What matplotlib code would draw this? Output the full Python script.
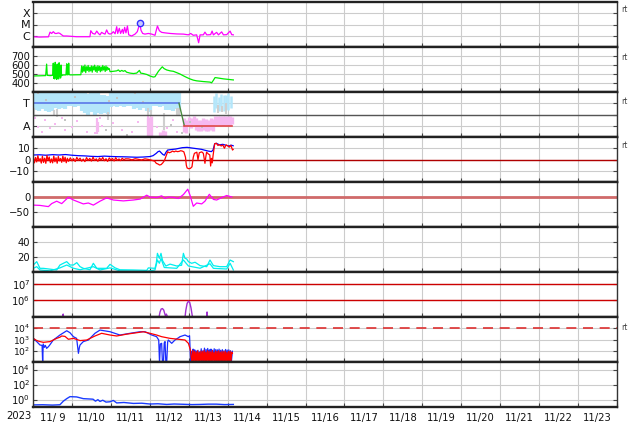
import datetime
import numpy as np
import matplotlib
matplotlib.use("Agg")
import matplotlib.pyplot as plt
from matplotlib.ticker import NullLocator

plt.rcParams['font.family'] = ['DejaVu Sans']
plt.rcParams['font.size'] = 7.2

# ---- data (time in hours since 2023-11-09 00:00) ----
start_day = datetime.date(2023, 11, 9)
n_days = 15

# X-ray flux (W/m2)
xr_t = [0.2, 4.0, 9.5, 10.5, 11.5, 12.5, 13.6, 14.6, 15.6, 16.6, 17.7, 18.7, 20.8, 26.9, 35.1,
        35.6, 36.8, 38.2, 39.3, 40.3, 41.3, 42.3, 43.4, 44.4, 45.4, 46.4, 47.5, 48.5, 49.5, 50.6,
        51.6, 52.2, 53.2, 54.0, 55.1, 55.7, 56.5, 57.3, 58.2, 59.0, 60.8, 62.9, 64.3, 65.1, 65.8,
        66.6, 67.6, 69.0, 71.1, 73.2, 75.2, 76.7, 77.9, 79.3, 81.4, 84.5, 88.6, 92.7, 95.8, 97.2,
        98.8, 100.9, 102.1, 103.0, 105.0, 106.0, 107.1, 109.5, 110.4, 111.2, 113.2, 114.3, 116.3,
        117.4, 119.4, 121.5, 122.5, 123.5]
xr_v = [8.2e-7, 7.6e-7, 8.0e-7, 2.1e-6, 1.6e-6, 2.3e-6, 1.6e-6, 1.6e-6, 1.8e-6, 1.6e-6, 1.2e-6,
        9.5e-7, 9.5e-7, 8.2e-7, 8.2e-7, 2.8e-6, 1.6e-6, 1.4e-6, 2.6e-6, 1.6e-6, 1.2e-6, 2.0e-6,
        1.6e-6, 1.4e-6, 3.3e-6, 1.6e-6, 1.4e-6, 1.6e-6, 2.3e-6, 1.5e-6, 6.4e-6, 1.6e-6, 4.6e-6,
        1.6e-6, 3.7e-6, 1.6e-6, 5.6e-6, 1.8e-6, 7.4e-6, 1.2e-6, 9.5e-7, 1.4e-6, 2.3e-6, 5.6e-6,
        1.25e-5, 3.0e-6, 1.6e-6, 1.4e-6, 1.6e-6, 1.4e-6, 1.1e-6, 7.4e-6, 2.8e-6, 2.0e-6, 1.8e-6,
        1.6e-6, 1.45e-6, 1.4e-6, 1.2e-6, 1.6e-6, 1.1e-6, 1.2e-6, 2.4e-7, 1.2e-6, 1.2e-6, 2.1e-6,
        1.2e-6, 1.25e-6, 2.6e-6, 1.2e-6, 2.0e-6, 1.2e-6, 2.2e-6, 1.2e-6, 1.25e-6, 2.6e-6, 1.25e-6,
        1.2e-6]
flare_t = [65.8]
flare_v = [1.25e-5]

# solar wind speed (km/s)
sw_t = [0.2, 4.3, 7.8, 8.4, 8.8, 10.5, 12.1,
        12.5, 12.8, 13.1, 13.4, 13.7, 14.0, 14.3, 14.6, 14.9, 15.2, 15.5, 15.8, 16.1, 16.4, 16.7,
        17.0, 17.3, 17.6, 18.1, 20.3, 20.8, 21.1, 21.4, 21.7, 22.0, 22.3, 22.8, 29.5,
        30.0, 30.5, 31.0, 31.5, 32.0, 32.5, 33.0, 33.5, 34.0, 34.5, 35.0, 35.5, 36.0, 36.5, 37.0,
        37.5, 38.0, 38.5, 39.0, 39.5, 40.0, 40.5, 41.0, 41.5, 42.0, 42.5, 43.0, 43.5, 44.0, 44.5,
        45.0, 45.5, 46.0, 46.5, 47.0,
        47.5, 49.5, 51.6, 52.6, 53.6, 54.7, 55.7, 56.7, 57.7, 59.8, 61.9, 63.9, 65.6, 66.4, 68.0,
        70.1, 72.1, 74.2, 75.2, 77.3, 78.7, 79.7, 80.8, 82.4, 84.5, 86.5, 88.6, 90.6, 92.7, 94.7,
        96.8, 98.8, 100.9, 103.0, 105.0, 107.1, 109.1, 110.1, 111.2, 112.2, 113.2, 115.3, 117.4,
        119.4, 121.5, 123.5]
sw_v = [478, 480, 482, 610, 485, 482, 485,
        620, 450, 600, 445, 630, 460, 590, 440, 610, 450, 560, 445, 625, 470, 580,
        455, 600, 480, 489, 490, 615, 490, 605, 492, 620, 495, 490, 492,
        590, 520, 585, 530, 600, 515, 580, 540, 595, 525, 575, 535, 590, 520, 585,
        545, 598, 530, 580, 518, 592, 540, 585, 525, 578, 535, 595, 545, 582, 528,
        590, 540, 575, 550, 560,
        526, 530, 535, 545, 528, 540, 530, 538, 520, 510, 505, 510, 540, 510, 505,
        495, 478, 466, 470, 530, 560, 580, 560, 545, 535, 530, 515, 500, 480, 462,
        445, 432, 424, 420, 416, 413, 410, 402, 430, 460, 458, 452, 446,
        442, 438, 434]

# IMF sector: sector line (deg), and scatter of phi angle
sec_t = [0.2, 90.0, 93.3, 122.9]
sec_v = [270, 270, 90, 90]
blue_t = [0, 2, 4, 6, 8, 10, 12, 14, 16, 18, 20, 22, 24, 26, 28, 30, 32, 34, 36, 38, 40, 42, 44,
          46, 48, 50, 52, 54, 56, 58, 60, 62, 64, 66, 68, 70, 72, 74, 76, 78, 80, 82, 84, 86, 88, 90]
blue_lo = [215, 220, 210, 225, 205, 198, 210, 230, 225, 235, 228, 245, 250, 240, 248, 205, 190, 175,
           200, 168, 195, 185, 190, 182, 240, 248, 242, 250, 238, 245, 250, 228, 232, 220, 230, 205,
           200, 248, 252, 240, 245, 215, 220, 210, 225, 218]
blue_hi = [358, 360, 352, 358, 355, 360, 356, 358, 352, 360, 357, 354, 358, 360, 352, 356, 358, 347,
           354, 358, 352, 334, 340, 332, 354, 358, 360, 356, 352, 358, 354, 357, 360, 352, 358, 354,
           356, 360, 352, 358, 354, 357, 360, 352, 356, 358]
blue2_t = [111.5, 113.0, 114.5, 116.0, 117.5, 119.0, 120.5, 122.0]
blue2_lo = [200, 235, 210, 250, 205, 225, 215, 230]
blue2_hi = [330, 350, 320, 345, 335, 340, 355, 325]
pink_t = [71.0, 72.0, 73.0, 78.5, 80.0, 81.5, 93.0, 94.5, 96.0, 97.5, 99.0, 100.5, 102.0, 103.5,
          105.0, 106.5, 108.0, 109.5, 111.0, 112.5, 114.0, 115.5, 117.0, 118.5, 120.0, 121.5, 122.7]
pink_lo = [10, 40, 5, 2, 5, 10, 40, 30, 90, 70, 95, 60, 50, 45, 60, 50, 45, 60, 50, 100, 95, 100,
           85, 95, 100, 90, 105]
pink_hi = [160, 150, 170, 40, 55, 45, 150, 140, 160, 150, 165, 150, 140, 135, 150, 145, 138, 150,
           145, 170, 165, 172, 168, 170, 165, 172, 160]
pink2_t = [39.2, 40.2]
pink2_lo = [25, 40]
pink2_hi = [150, 120]
gray_t = [0.5, 13.0, 15.0, 46.5, 70.8, 72.5, 80.5, 88.5, 90.0, 114.0, 116.5, 119.0]
gray_lo = [150, 170, 160, 140, 165, 175, 60, 180, 170, 190, 200, 185]
gray_hi = [230, 215, 225, 200, 230, 220, 190, 230, 235, 260, 250, 270]
pk_pts_t = [1.2, 3.3, 5.3, 7.4, 10.5, 13.6, 17.7, 19.7, 23.8, 27.3, 33.1, 38.2, 41.3, 42.3, 49.5,
            54.7, 60.8, 64.9, 71.1, 76.2, 82.4, 86.5, 88.6]
pk_pts_v = [149, 83, 43, 136, 69, 104, 149, 56, 83, 131, 43, 29, 149, 88, 112, 56, 43, 123, 163,
            83, 69, 136, 43]
gr_pts_t = [3, 8, 20, 26, 34, 45, 47, 52, 58, 63, 68, 85, 92, 97, 104]
gr_pts_v = [355, 300, 140, 320, 358, 60, 290, 310, 20, 355, 280, 100, 30, 120, 80]

# IMF Bt and Bz (nT)
bt_t = [0.2, 4, 8, 12, 16, 20, 24, 28, 32, 36, 40, 44, 48, 52, 56, 60, 64, 68, 72, 74, 76, 77, 78,
        79, 80, 81, 82, 83, 85, 88, 90, 92, 95, 98, 101, 104, 106, 108, 110, 111, 112, 113, 115,
        117, 119, 121, 122, 123.4]
bt_v = [4.0, 4.2, 3.8, 4.3, 4.0, 4.4, 3.8, 3.4, 3.2, 2.8, 2.6, 3.0, 2.7, 2.5, 2.4, 2.2, 2.0, 2.2,
        2.6, 3.4, 5.5, 6.9, 7.5, 6.0, 4.5, 3.8, 6.5, 8.4, 8.8, 9.3, 9.9, 10.5, 10.8, 10.2, 9.6, 9.0,
        8.2, 7.5, 7.0, 8.5, 14.0, 14.4, 13.0, 13.5, 12.6, 12.0, 12.8, 12.2]
bz_t = [0.2, 0.9, 1.6, 2.3, 3.0, 3.7, 4.4, 5.1, 5.8, 6.5, 7.2, 7.9, 8.6, 9.3, 10.0, 10.7, 11.4,
        12.1, 12.8, 13.5, 14.2, 14.9, 15.6, 16.3, 17.0, 17.7, 18.4, 19.1, 19.8, 20.5, 21.2, 21.9,
        23, 24, 25, 26, 27, 28, 29, 30, 31, 32, 33, 34, 35, 36, 37, 38, 39, 40, 41, 42, 43, 44, 45,
        46, 47, 48, 49, 50, 51, 52, 53, 54, 55, 56, 57,
        59, 61, 63, 65, 67, 69, 71, 73, 75,
        76, 77, 78, 79, 80, 81, 82, 83, 84, 85, 86, 87, 88, 89, 90, 91, 92, 93, 94, 94.5, 95, 96,
        97, 98, 98.8, 99.5, 101, 101.7, 102.5, 104, 105, 106, 106.5, 107, 108, 109, 109.5, 110,
        110.5, 111, 112, 113, 114, 115, 116, 117, 118, 119, 120, 121, 122, 123, 123.4]
bz_v = [2.5, -3.0, 1.8, -2.2, 3.4, -1.5, 0.8, -3.2, 2.9, -2.6, 1.2, -3.4, 3.6, -1.0, 2.2, -2.8,
        0.5, -3.0, 3.1, -2.0, 1.5, -3.3, 2.7, -1.2, 0.9, -2.5, 3.0, -1.8, 2.0, -2.9, 1.1, -1.6,
        1.5, -1.2, 0.8, -1.8, 1.9, -0.6, 1.2, -1.5, 0.4, -1.9, 1.7, -0.8, 1.0, -1.4, 2.0, -0.9,
        0.6, -1.6, 1.3, -0.5, 1.8, -1.1, 0.7, -1.7, 1.4, -0.4, 0.9, -1.3, 1.6, -0.7, 0.5, -1.0,
        1.1, -0.3, 0.6,
        0.5, -0.3, 0.7, 0.2, -0.4, 0.6, 0.1, -0.6, -1.5,
        -3.4, -4.0, -4.9, -4.5, -3.0, -1.0, 3.0, 6.9, 6.0, 6.5, 7.5, 6.8, 7.5, 7.0, 7.2, 7.8, 7.5,
        6.8, 2.0, -5.0, -7.5, -8.2, -7.9, -6.5, 2.0, 5.5, 6.5, -0.3, 6.0, 6.8, 5.5, -3.4, 2.0,
        6.5, 5.0, 4.0, -5.8, 1.0, -3.0, 3.5, 14.0, 14.4, 12.5, 13.2, 12.0, 12.9, 10.0, 13.0, 12.2,
        11.0, 12.5, 8.4, 9.0]

# Dst (nT)
dst_t = [0.2, 4.3, 9.5, 11.5, 14.6, 17.7, 21.8, 24.9, 31.0, 34.1, 37.2, 41.3, 45.4, 49.5, 55.7,
         61.9, 66.0, 70.1, 72.1, 76.2, 79.3, 81.4, 83.4, 86.5, 89.6, 92.7, 95.4, 96.8, 98.8, 100.9,
         104.0, 106.0, 108.7, 111.2, 113.2, 116.3, 119.4, 122.5]
dst_v = [-27, -28, -32, -22, -14, -22, -1, -10, -23, -20, -27, -14, -3, -10, -13, -10, -7, 6, 0,
         -2, 4, -5, 0, -1, -5, 8, 26, 6, -31, -20, -23, -14, 9, -8, -10, -2, 5, 0]

# two cyan indices
c1_t = [0.2, 2.3, 4.3, 6.4, 10.5, 14.6, 16.6, 18.7, 20.8, 22.8, 24.9, 27.0, 29.0, 31.0, 35.1, 37.2,
        39.3, 41.3, 45.4, 47.5, 50.6, 53.6, 61.9, 70.1, 71.1, 75.2, 76.0, 76.7, 77.9, 78.9, 79.9,
        81.9, 84.5, 88.6, 91.6, 92.7, 93.7, 94.7, 95.8, 97.8, 99.9, 103.0, 107.1, 109.1, 111.2,
        115.3, 119.4, 121.5, 123.5]
c1_v = [9.3, 13.8, 4.9, 4.9, 3.8, 2.7, 9.3, 11.6, 13.8, 9.3, 9.3, 12.5, 7.1, 4.9, 3.0, 11.6, 4.9,
        4.9, 4.9, 10.2, 5.5, 3.0, 2.7, 2.2, 5.5, 4.9, 12.0, 24.9, 18.2, 24.9, 15.0, 8.0, 10.5, 8.0,
        9.0, 24.9, 18.2, 17.5, 13.8, 11.6, 13.0, 8.5, 7.1, 16.0, 8.5, 7.1, 7.1, 16.0, 13.8]
c2_t = [0.2, 2.3, 4.3, 10.5, 16.6, 20.8, 24.9, 29.0, 37.2, 41.3, 47.5, 53.6, 70.1, 75.2, 76.7,
        77.9, 78.9, 80.9, 88.6, 92.7, 95.8, 103.0, 109.1, 111.2, 119.4, 121.5, 123.5]
c2_v = [4.9, 7.1, 2.7, 1.5, 5.5, 9.3, 5.0, 3.0, 7.1, 2.7, 5.5, 1.5, 1.0, 2.7, 16.0, 11.6, 18.2, 6.0,
        4.9, 16.0, 8.0, 5.0, 11.0, 4.9, 4.0, 11.6, 2.7]

# electron fluence-like series (purple)
pu_t = [18.3, 18.6, 18.9, np.nan, 77.5, 78.3, 79.0, 79.8, 80.6, 81.2, 81.6, 82.2, 82.8, 83.2, np.nan,
        93.6, 94.2, 95.0, 95.8, 96.6, 97.4, 98.0, 98.5, np.nan, 107.0, 107.3, 107.6]
pu_v = [8e4, 1.5e5, 8e4, np.nan, 8e4, 2.0e5, 3.0e5, 3.2e5, 2.6e5, 1.6e5, 1.2e5, 1.5e5, 1.1e5, 8e4,
        np.nan, 8e4, 2.5e5, 6.5e5, 8.8e5, 7.5e5, 3.5e5, 1.5e5, 8e4, np.nan, 8e4, 2.0e5, 8e4]

# electron flux, two satellites
eb_t = [0.2, 2.3, 4.3, 5.6, 5.96, 6.3, 7.0, 7.6, 8.4, 9.5, 10.5, 12.5, 14.6, 16.6, 20.8, 22.8, 24.9,
        26.9, 28.0, 28.6, 29.0, 31.0, 34.1, 38.2, 41.3, 47.5, 53.6, 59.8, 66.0, 69.1, 73.2, 76.2,
        77.5, 78.0, 78.5, 79.3, 79.8, 80.4, 80.9, 81.4, 81.9, 82.4, 83.0, 83.4, 85.5, 87.5, 89.6,
        90.6, 93.7, 95.8, 96.5,
        97.2, 97.7, 98.2, 98.7, 99.2, 99.7, 100.2, 100.7, 101.2, 101.7, 102.2, 102.7, 103.2, 103.7,
        104.2, 104.7, 105.2, 105.7, 106.2, 106.7, 107.2, 107.7, 108.2, 108.7, 109.2, 109.7, 110.2,
        110.7, 111.2, 111.7, 112.2, 112.7, 113.2, 113.7, 114.2, 114.7, 115.2, 115.7, 116.2, 116.7,
        117.2, 117.7, 118.2, 118.7, 119.2, 119.7, 120.2, 120.7, 121.2, 121.7, 122.2, 122.9]
eb_v = [1260, 650, 325, 300, 8, 400, 200, 300, 163, 230, 350, 900, 1500, 2500, 6000, 4000, 1780,
        1260, 59, 200, 325, 650, 900, 3550, 6900, 4900, 2500, 3550, 4900, 4900, 2500, 1780,
        900, 8, 400, 457, 8, 8, 500, 650, 8, 8, 600, 900, 457, 900, 1400,
        1780, 2500, 1780, 2200,
        8, 90, 8, 140, 30, 120, 8, 95, 20, 110, 8, 80, 15, 150, 8, 100, 25, 170, 8, 130, 18, 160,
        8, 120, 30, 140, 8, 110, 20, 150, 8, 130, 25, 120, 8, 140, 15, 110, 8, 125, 20, 100, 8,
        130, 18, 115, 8, 120, 25, 100, 8, 90]
er_t = [0.2, 2.3, 4.3, 6.4, 10.5, 14.6, 16.6, 17.7, 19.7, 21.8, 24.9, 29.0, 33.1, 38.2, 42.3, 47.5,
        51.6, 57.8, 63.9, 68.0, 72.1, 76.2, 79.3, 84.5, 89.6, 93.7, 95.8, 97.0,
        97.5, 98.0, 98.5, 99.0, 99.5, 100.0, 100.5, 101.0, 101.5, 102.0, 102.5, 103.0, 103.5, 104.0,
        104.5, 105.0, 105.5, 106.0, 106.5, 107.0, 107.5, 108.0, 108.5, 109.0, 109.5, 110.0, 110.5,
        111.0, 111.5, 112.0, 112.5, 113.0, 113.5, 114.0, 114.5, 115.0, 115.5, 116.0, 116.5, 117.0,
        117.5, 118.0, 118.5, 119.0, 119.5, 120.0, 120.5, 121.0, 121.5, 122.0, 122.5, 122.9]
er_v = [1260, 800, 650, 560, 650, 1260, 1600, 2050, 1900, 1050, 1260, 800, 900, 2050, 3550, 2500,
        2050, 3000, 4000, 4900, 3550, 2500, 1780, 1260, 1050, 900, 457, 120,
        30, 8, 110, 8, 90, 10, 80, 8, 100, 9, 70, 8, 95, 12, 85, 8, 110, 9, 75, 8, 100, 10, 90, 8,
        80, 9, 105, 8, 70, 11, 95, 8, 85, 9, 100, 8, 75, 10, 90, 8, 80, 9, 95, 8, 70, 10, 85, 8,
        90, 9, 75, 60]
e_thresh = 1e4

# bottom panel (blue)
lb_t = [0.2, 6, 12, 16.6, 18.7, 20.8, 22.8, 26.9, 31.0, 34.0, 37.0, 38.5, 40.0, 41.3, 43.0, 45.0,
        47.5, 49.5, 51.6, 56.0, 61.9, 67.0, 72.1, 77.0, 82.4, 87.0, 92.7, 98.0, 103.0, 108.0, 113.0,
        118.0, 123.5]
lb_v = [0.19, 0.2, 0.18, 0.2, 0.6, 1.3, 2.4, 2.2, 1.3, 1.2, 1.1, 0.6, 0.95, 0.55, 0.8, 0.45, 0.5,
        0.75, 0.35, 0.4, 0.3, 0.32, 0.25, 0.27, 0.22, 0.25, 0.23, 0.21, 0.22, 0.24, 0.24, 0.21, 0.22]


def d(hours):
    return np.asarray(hours, dtype=float) / 24.0


# ---- layout ----
W, H = 634, 424
fig = plt.figure(figsize=(W / 100, H / 100), dpi=100)
left, right = 33, 617
tops = [2, 47, 92, 137, 182, 227, 272, 317, 362]
axes = []
for top in tops:
    ax = fig.add_axes([left / W, 1 - (top + 45) / H, (right - left) / W, 45 / H])
    axes.append(ax)

grid_c = '#cccccc'
for i, ax in enumerate(axes):
    ax.set_xlim(0, n_days)
    ax.set_xticks(range(n_days + 1))
    ax.set_xticks([k + 0.5 for k in range(n_days)], minor=True)
    ax.tick_params(axis='x', which='major', direction='in', length=3, width=0.8,
                   labelbottom=False, color='#444')
    ax.tick_params(axis='x', which='minor', length=0, labelbottom=False)
    ax.tick_params(axis='y', which='major', direction='in', length=3, width=0.8,
                   right=True, pad=2, labelsize=7.2, color='#444', labelcolor='#111')
    ax.grid(True, which='major', color=grid_c, lw=0.8)
    ax.set_axisbelow(True)
    for s in ('top', 'bottom'):
        ax.spines[s].set_linewidth(1.7)
        ax.spines[s].set_color('#222')
    for s in ('left', 'right'):
        ax.spines[s].set_linewidth(1.0)
        ax.spines[s].set_color('#333')

# 1 X-ray
ax = axes[0]
ax.set_yscale('log')
ax.set_ylim(1e-7, 1e-3)
ax.plot(d(xr_t), xr_v, color='#ff00ff', lw=0.9)
ax.plot(d(flare_t), flare_v, 'o', ms=4.5, mfc='#c8c8ff', mec='#3030ff', mew=1)
ax.set_yticks([1e-6, 1e-5, 1e-4])
ax.set_yticklabels(['C', 'M', 'X'], fontsize=8)
ax.yaxis.set_minor_locator(NullLocator())

# 2 solar wind speed
ax = axes[1]
ax.set_ylim(300, 800)
ax.plot(d(sw_t), sw_v, color='#00ee00', lw=0.9)
ax.set_yticks([400, 500, 600, 700])

# 3 IMF sector
ax = axes[2]
ax.set_ylim(0, 360)
ax.vlines(d(blue_t), blue_lo, blue_hi, color='#b4e6fa', lw=3.0)
ax.vlines(d(blue2_t), blue2_lo, blue2_hi, color='#b4e6fa', lw=1.8)
ax.vlines(d(gray_t), gray_lo, gray_hi, color='#cfcfcf', lw=1.5)
ax.vlines(d(pink_t), pink_lo, pink_hi, color='#f6b8f0', lw=2.4)
ax.vlines(d(pink2_t), pink2_lo, pink2_hi, color='#f6b8f0', lw=1.6)
ax.plot(d(pk_pts_t), pk_pts_v, 's', ms=1.8, color='#f6b8f0', mew=0)
ax.plot(d(gr_pts_t), gr_pts_v, 's', ms=1.8, color='#c4c4c4', mew=0)
ax.axhline(180, color='#555555', lw=1.0)
ax.plot(d(sec_t[:2]), sec_v[:2], color='#5a78e8', lw=1.2)
ax.plot(d(sec_t[1:3]), sec_v[1:3], color='#4a8a40', lw=1.0)
ax.plot(d(sec_t[2:]), sec_v[2:], color='#e04848', lw=1.2)
ax.set_yticks([90, 180, 270])
ax.set_yticklabels(['A', '', 'T'], fontsize=8)

# 4 IMF
ax = axes[3]
ax.set_ylim(-20, 20)
ax.axhline(0, color='#b00000', lw=1.0)
ax.plot(d(bt_t), bt_v, color='#0000ff', lw=0.9)
ax.plot(d(bz_t), bz_v, color='#ff0000', lw=0.9)
ax.set_yticks([-10, 0, 10])
ax.set_yticklabels(['\u221210', '0', '10'])

# 5 Dst
ax = axes[4]
ax.set_ylim(-100, 50)
ax.axhline(0, color='#d06a6a', lw=2.0)
ax.plot(d(dst_t), dst_v, color='#ff00ff', lw=0.9)
ax.set_yticks([-50, 0])
ax.set_yticklabels(['\u221250', '0'])

# 6 cyan
ax = axes[5]
ax.set_ylim(0, 60)
ax.plot(d(c2_t), c2_v, color='#00eeee', lw=0.9)
ax.plot(d(c1_t), c1_v, color='#00eeee', lw=0.9)
ax.set_yticks([20, 40])

# 7 purple
ax = axes[6]
ax.set_yscale('log')
ax.set_ylim(1e5, 5e7)
ax.axhline(1e7, color='#cc0000', lw=1.0)
ax.axhline(1e6, color='#cc0000', lw=1.0)
ax.plot(d(pu_t), pu_v, color='#a030d0', lw=1.0)
ax.set_yticks([1e6, 1e7])
ax.yaxis.set_minor_locator(NullLocator())

# 8 electron flux
ax = axes[7]
ax.set_yscale('log')
ax.set_ylim(10, 1e5)
ax.axhline(e_thresh, color='#dd3030', lw=1.2, ls=(0, (6, 4)))
ax.plot(d(eb_t), eb_v, color='#1a2cff', lw=0.9)
ax.plot(d(er_t), er_v, color='#ff0000', lw=0.9)
ax.set_yticks([1e2, 1e3, 1e4])
ax.yaxis.set_minor_locator(NullLocator())
ax.tick_params(axis='y', labelsize=6.6)

# 9 bottom
ax = axes[8]
ax.set_yscale('log')
ax.set_ylim(0.1, 1e5)
ax.plot(d(lb_t), lb_v, color='#1a3cff', lw=1.0)
ax.set_yticks([1, 1e2, 1e4])
ax.yaxis.set_minor_locator(NullLocator())

day_labels = []
for k in range(n_days):
    dt = start_day + datetime.timedelta(days=k)
    day_labels.append(f"{dt.month}/{dt.day:2d}")
ax.set_xticklabels(day_labels, minor=True)
ax.tick_params(axis='x', which='minor', labelbottom=True, pad=4, labelsize=7.2, labelcolor='#111')
fig.text(19 / W, 1 - 416 / H, str(start_day.year), ha='center', va='center', fontsize=7.2,
         color='#111')

for ypix in (10, 57, 101, 146, 327):
    fig.text(621 / W, 1 - ypix / H, 'rt', fontsize=5.5, color='#444', va='center')

fig.savefig('out.png', dpi=100)
